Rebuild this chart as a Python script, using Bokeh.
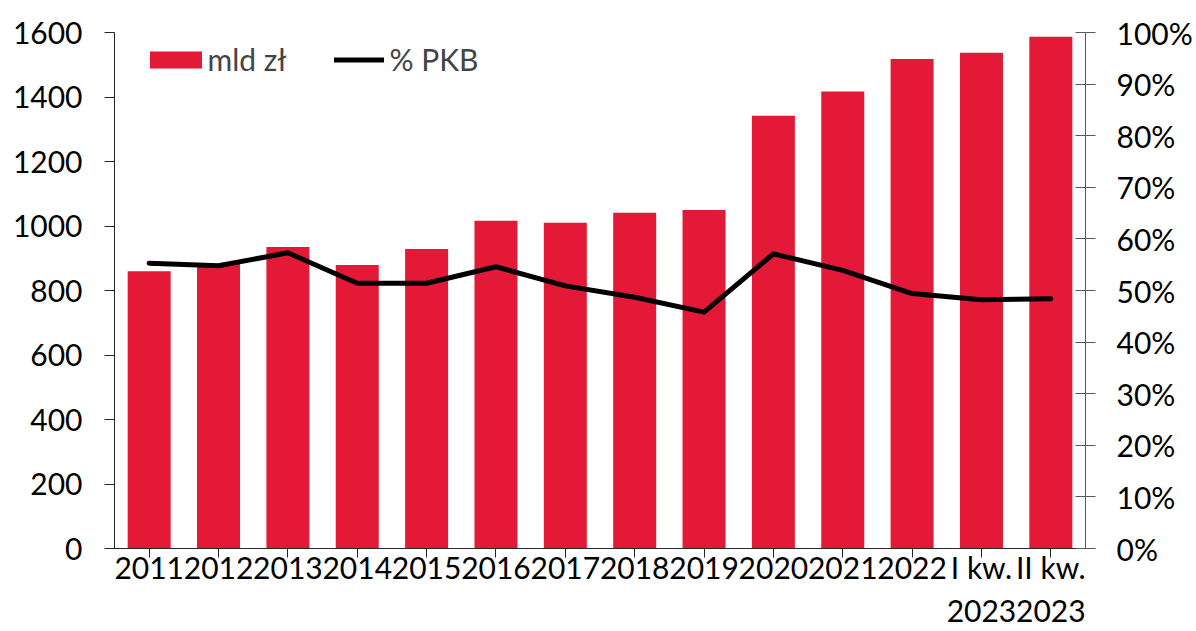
from bokeh.plotting import figure
from bokeh.models import (FactorRange, Range1d, LinearAxis, NumeralTickFormatter,
                          ColumnDataSource, Legend, LegendItem, FixedTicker)
from bokeh.embed import file_html
from bokeh.resources import INLINE

categories = ["2011", "2012", "2013", "2014", "2015", "2016", "2017", "2018",
              "2019", "2020", "2021", "2022", "I kw.\n2023", "II kw.\n2023"]
debt_bn = [860, 882, 935, 879, 929, 1016, 1010, 1041, 1050, 1342, 1417, 1518, 1537, 1587]
debt_pct_gdp = [55.3, 54.8, 57.3, 51.4, 51.4, 54.6, 50.9, 48.7, 45.8, 57.1, 53.9, 49.4, 48.2, 48.4]
left_ticks = [0, 200, 400, 600, 800, 1000, 1200, 1400, 1600]
right_ticks = [0, 10, 20, 30, 40, 50, 60, 70, 80, 90, 100]

RED = "#E31937"
FONT = "Lato"
FS = "30px"

src = ColumnDataSource(dict(cat=categories, val=debt_bn,
                            pct=[v / 100 for v in debt_pct_gdp]))

p = figure(x_range=FactorRange(*categories, range_padding=0),
           y_range=Range1d(0, 1600), width=1195, height=630,
           output_backend="svg", toolbar_location=None,
           min_border_left=114, min_border_right=110,
           min_border_top=32, min_border_bottom=82)
p.outline_line_color = None
p.xgrid.visible = False
p.ygrid.visible = False
p.extra_y_ranges = {"pct": Range1d(0, 1)}

bars = p.vbar(x="cat", top="val", width=0.62, source=src, fill_color=RED,
              line_color=None)
line = p.line(x="cat", y="pct", source=src, y_range_name="pct",
              line_color="black", line_width=5, line_join="round",
              line_cap="round")

right = LinearAxis(y_range_name="pct",
                   ticker=FixedTicker(ticks=[t / 100 for t in right_ticks]),
                   formatter=NumeralTickFormatter(format="0%"))
p.add_layout(right, "right")

p.yaxis[0].ticker = FixedTicker(ticks=left_ticks)

for ax, col in [(p.yaxis[0], "#262626"), (right, "#595959"), (p.xaxis[0], "#262626")]:
    ax.axis_line_color = col
    ax.major_tick_line_color = col
    ax.minor_tick_line_color = None
    ax.major_label_text_font = FONT
    ax.major_label_text_font_size = FS
    ax.major_label_text_color = "black"

p.yaxis[0].major_tick_out = 10
p.yaxis[0].major_tick_in = 0
p.yaxis[0].major_label_standoff = 22
right.major_tick_out = 10
right.major_tick_in = 10
right.major_label_standoff = 21
p.xaxis[0].major_tick_out = 9
p.xaxis[0].major_tick_in = 0
p.xaxis[0].major_label_standoff = -9
p.xaxis[0].major_label_orientation = "horizontal"

common = dict(orientation="horizontal", label_text_font=FONT,
              label_text_font_size=FS, padding=4, margin=0,
              border_line_color=None, background_fill_alpha=0)

legend1 = Legend(items=[LegendItem(label="mld zł", renderers=[bars])],
                 location=(146.5 - 114 - 4, 475 - 4),
                 glyph_width=65, glyph_height=21, label_standoff=0, **common)
legend2 = Legend(items=[LegendItem(label="% PKB", renderers=[line])],
                 location=(337.5 - 114 - 4, 475 - 4),
                 glyph_width=50, glyph_height=17, label_standoff=6, **common)
p.add_layout(legend1, "center")
p.add_layout(legend2, "center")

open("out.html", "w").write(file_html(p, INLINE))
